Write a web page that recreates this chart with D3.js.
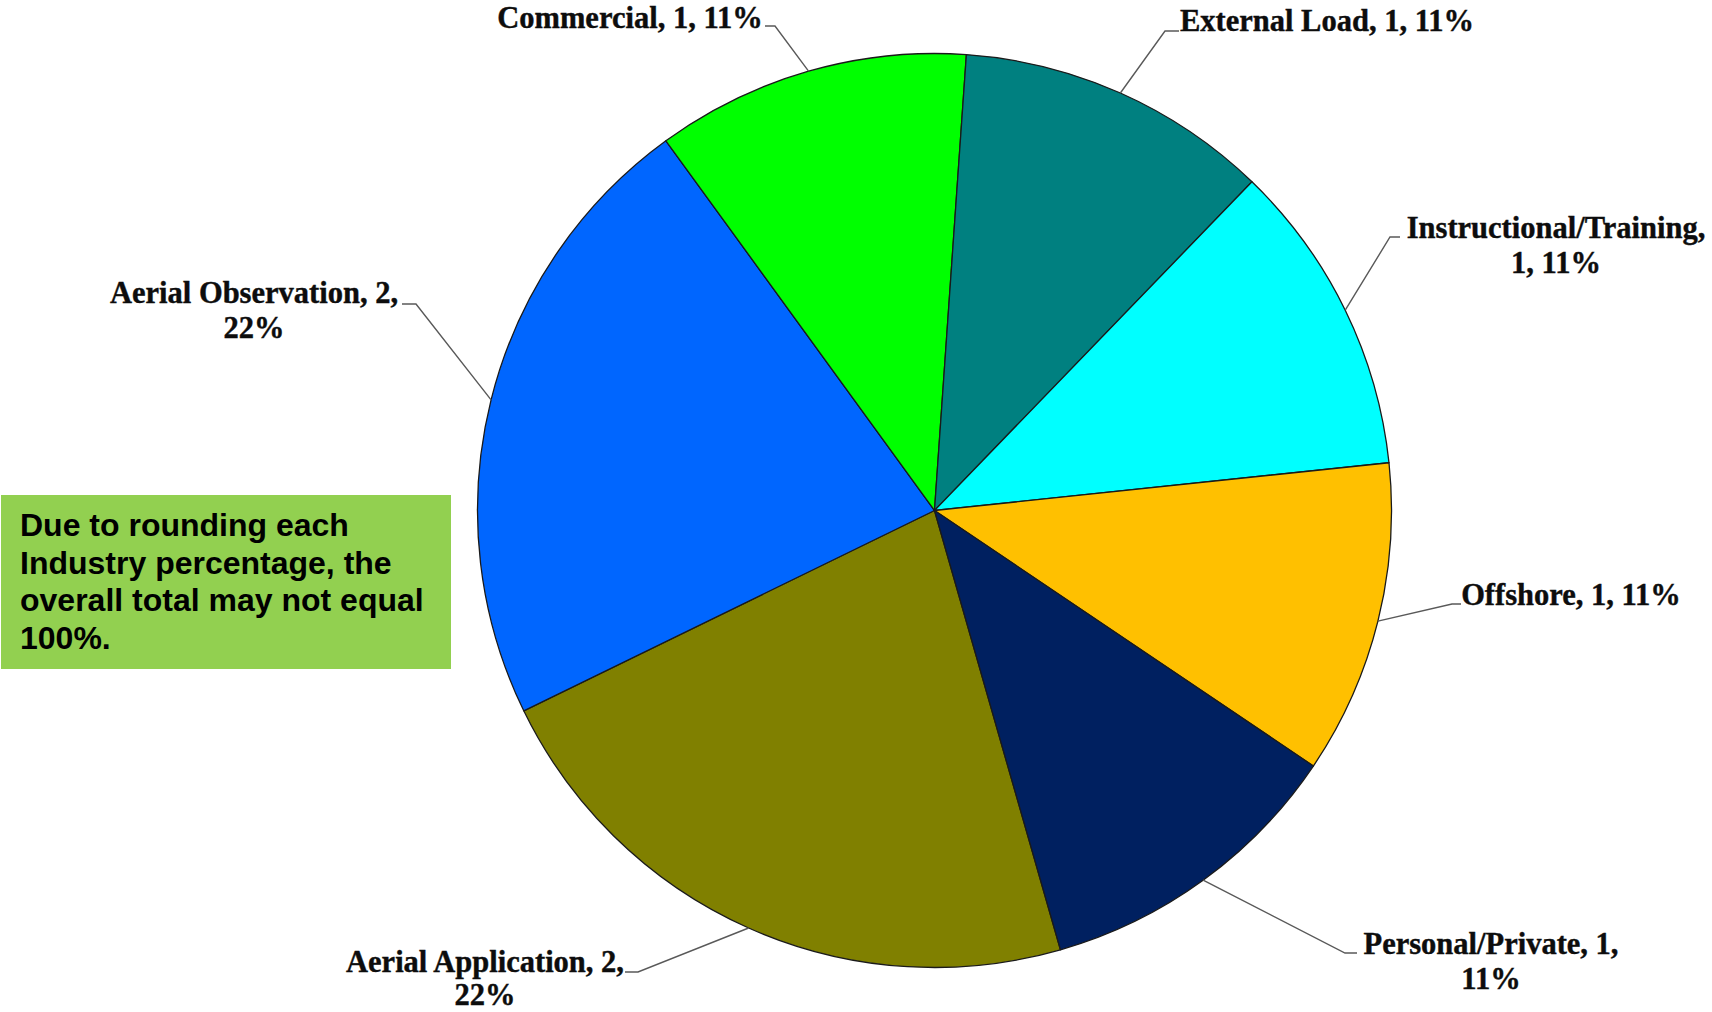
<!DOCTYPE html>
<html>
<head>
<meta charset="utf-8">
<script src="https://cdn.jsdelivr.net/npm/d3@7/dist/d3.min.js"></script>
<style>
  html, body { margin: 0; padding: 0; background: #ffffff; }
  svg { display: block; }
</style>
</head>
<body>
<svg id="chart" width="1712" height="1012"></svg>
<script>
// ---- data ----
const categories = ["Aerial Application", "Aerial Observation", "Commercial", "External Load",
                    "Instructional/Training", "Offshore", "Personal/Private"];
const counts = [2, 2, 1, 1, 1, 1, 1];
const percents = [22, 22, 11, 11, 11, 11, 11];
const colors = ["#808000", "#0066FF", "#00FF00", "#008080", "#00FFFF", "#FFC000", "#002060"];
const noteLines = ["Due to rounding each", "Industry percentage, the", "overall total may not equal", "100%."];

// ---- layout ----
const W = 1712, H = 1012;
const cx = 934.5, cy = 510.5, R = 457;
const startDeg = 164;
// label layout: text centre x, first baseline y, line break mode, elbow & end of leader
// brk: 0 = one line, 1 = break after name, 2 = break after value
const labelLayout = [
  { x: 485,  y: 972, brk: 2, gap: 32.5, elbow: [638, 972], end: [625, 972] },
  { x: 254,  y: 303, brk: 2, gap: 34.5, elbow: [416, 304], end: [402, 304] },
  { x: 630,  y: 28,  brk: 0, gap: 34.5, elbow: [775, 26],  end: [765, 26] },
  { x: 1327, y: 31,  brk: 0, gap: 34.5, elbow: [1165, 31], end: [1179, 31] },
  { x: 1556, y: 238, brk: 1, gap: 34.5, elbow: [1390, 237], end: [1400, 237] },
  { x: 1571, y: 605, brk: 0, gap: 34.5, elbow: [1452, 604], end: [1461, 604] },
  { x: 1491, y: 954, brk: 2, gap: 34.5, elbow: [1345, 953], end: [1357, 953] }
];

const data = categories.map((c, i) => ({ name: c, value: counts[i], pct: percents[i], color: colors[i], lay: labelLayout[i] }));

const svg = d3.select("#chart");

const toRad = d => d * Math.PI / 180;
const pie = d3.pie().sort(null).value(d => d.value)
  .startAngle(toRad(startDeg)).endAngle(toRad(startDeg + 360));
const arc = d3.arc().innerRadius(0).outerRadius(R);

const arcs = pie(data);

const g = svg.append("g").attr("transform", `translate(${cx},${cy})`);
g.selectAll("path.slice").data(arcs).enter().append("path")
  .attr("class", "slice")
  .attr("d", arc)
  .attr("fill", d => d.data.color)
  .attr("stroke", "#1a1a1a")
  .attr("stroke-width", 1.3)
  .attr("stroke-linejoin", "round");

// leader lines
svg.selectAll("polyline.leader").data(arcs).enter().append("polyline")
  .attr("class", "leader")
  .attr("fill", "none")
  .attr("stroke", "#595959")
  .attr("stroke-width", 1.4)
  .attr("points", d => {
    const mid = (d.startAngle + d.endAngle) / 2;
    const px = cx + R * Math.sin(mid), py = cy - R * Math.cos(mid);
    const L = d.data.lay;
    return [[px, py], L.elbow, L.end].map(p => p.join(",")).join(" ");
  });

// labels
const labels = svg.selectAll("text.lbl").data(arcs).enter().append("text")
  .attr("class", "lbl")
  .attr("text-anchor", "middle")
  .attr("font-family", "'Liberation Serif', 'DejaVu Serif', serif")
  .attr("font-weight", "bold")
  .attr("font-size", 30.5)
  .attr("fill", "#0d0d0d")
  .attr("stroke", "#0d0d0d")
  .attr("stroke-width", 0.4);

labels.each(function (d) {
  const L = d.data.lay;
  const nm = d.data.name + ",", v = d.data.value + ",", p = d.data.pct + "%";
  let lines;
  if (L.brk === 0) lines = [nm + " " + v + " " + p];
  else if (L.brk === 1) lines = [nm, v + " " + p];
  else lines = [nm + " " + v, p];
  d3.select(this).selectAll("tspan").data(lines).enter().append("tspan")
    .attr("x", L.x)
    .attr("y", (t, i) => L.y + i * L.gap)
    .text(t => t);
});

// note box
const note = svg.append("g");
note.append("rect").attr("x", 1).attr("y", 495).attr("width", 450).attr("height", 174).attr("fill", "#92D050");
note.append("text")
  .attr("font-family", "'Liberation Sans', Arial, sans-serif")
  .attr("font-weight", "bold")
  .attr("font-size", 32)
  .attr("fill", "#000")
  .selectAll("tspan").data(noteLines).enter().append("tspan")
  .attr("x", 20)
  .attr("y", (t, i) => 536 + i * 37.5)
  .text(t => t);
</script>
</body>
</html>
